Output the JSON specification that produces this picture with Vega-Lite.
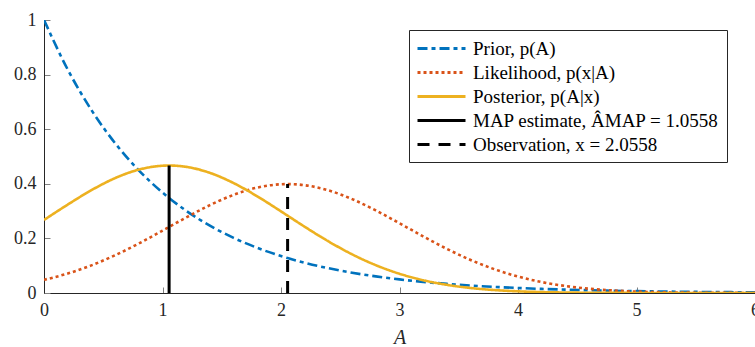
{
  "$schema": "https://vega.github.io/schema/vega-lite/v6.json",
  "autosize": "none",
  "width": 711,
  "height": 273,
  "padding": {"left": 44, "top": 20, "right": 0, "bottom": 54},
  "background": "white",
  "config": {
    "view": {"stroke": null},
    "font": "Liberation Serif",
    "axis": {
      "grid": false,
      "domainColor": "#262626",
      "domainWidth": 1,
      "tickColor": "#808080",
      "tickSize": -6,
      "labelColor": "#262626",
      "labelFont": "Liberation Serif",
      "labelFontSize": 18,
      "labelFlush": false,
      "titleFont": "Liberation Serif",
      "titleColor": "#262626"
    }
  },
  "datasets": {
    "curves": [
      {"A": 0.0, "prior": 1.0, "lik": 0.04822, "post": 0.26742},
      {"A": 0.2, "prior": 0.81873, "lik": 0.07129, "post": 0.32376},
      {"A": 0.4, "prior": 0.67032, "lik": 0.10128, "post": 0.37659},
      {"A": 0.6, "prior": 0.54881, "lik": 0.13826, "post": 0.42085},
      {"A": 0.8, "prior": 0.44933, "lik": 0.18133, "post": 0.4519},
      {"A": 1.0, "prior": 0.36788, "lik": 0.22848, "post": 0.4662},
      {"A": 1.0558, "prior": 0.34792, "lik": 0.24197, "post": 0.46693},
      {"A": 1.2, "prior": 0.30119, "lik": 0.27661, "post": 0.4621},
      {"A": 1.4, "prior": 0.2466, "lik": 0.32175, "post": 0.44007},
      {"A": 1.6, "prior": 0.2019, "lik": 0.35957, "post": 0.40266},
      {"A": 1.8, "prior": 0.1653, "lik": 0.3861, "post": 0.35399},
      {"A": 2.0, "prior": 0.13534, "lik": 0.39832, "post": 0.299},
      {"A": 2.0558, "prior": 0.12799, "lik": 0.39894, "post": 0.28321},
      {"A": 2.2, "prior": 0.1108, "lik": 0.39481, "post": 0.24265},
      {"A": 2.4, "prior": 0.09072, "lik": 0.37599, "post": 0.1892},
      {"A": 2.6, "prior": 0.07427, "lik": 0.34403, "post": 0.14173},
      {"A": 2.8, "prior": 0.06081, "lik": 0.30245, "post": 0.10201},
      {"A": 3.0, "prior": 0.04979, "lik": 0.25546, "post": 0.07054},
      {"A": 3.2, "prior": 0.04076, "lik": 0.20731, "post": 0.04687},
      {"A": 3.4, "prior": 0.03337, "lik": 0.16165, "post": 0.02992},
      {"A": 3.6, "prior": 0.02732, "lik": 0.12109, "post": 0.01835},
      {"A": 3.8, "prior": 0.02237, "lik": 0.08716, "post": 0.01081},
      {"A": 4.0, "prior": 0.01832, "lik": 0.06027, "post": 0.00612},
      {"A": 4.2, "prior": 0.015, "lik": 0.04005, "post": 0.00333},
      {"A": 4.4, "prior": 0.01228, "lik": 0.02556, "post": 0.00174},
      {"A": 4.6, "prior": 0.01005, "lik": 0.01568, "post": 0.00087},
      {"A": 4.8, "prior": 0.00823, "lik": 0.00924, "post": 0.00042},
      {"A": 5.0, "prior": 0.00674, "lik": 0.00523, "post": 0.0002},
      {"A": 5.2, "prior": 0.00552, "lik": 0.00285, "post": 0.00009},
      {"A": 5.4, "prior": 0.00452, "lik": 0.00149, "post": 0.00004},
      {"A": 5.6, "prior": 0.0037, "lik": 0.00075, "post": 0.00002},
      {"A": 5.8, "prior": 0.00303, "lik": 0.00036, "post": 0.00001},
      {"A": 6.0, "prior": 0.00248, "lik": 0.00017, "post": 0.0}
    ],
    "markers": [
      {"series": "map", "A": 1.0558, "p0": 0, "p1": 0.46693},
      {"series": "obs", "A": 2.0558, "p0": 0, "p1": 0.39894}
    ]
  },
  "layer": [
    {
      "data": {"name": "curves"},
      "transform": [{"fold": ["prior", "lik", "post"], "as": ["series", "p"]}],
      "mark": {"type": "line", "interpolate": "monotone", "strokeWidth": 2.6, "strokeCap": "butt", "clip": true},
      "encoding": {
        "x": {"field": "A", "type": "quantitative", "scale": {"domain": [0, 6], "nice": false},
          "axis": {"values": [0, 1, 2, 3, 4, 5, 6], "format": "~g", "title": "A", "titleFontStyle": "italic", "titleFontSize": 20, "titleFontWeight": "normal", "labelPadding": 14, "titlePadding": 8}},
        "y": {"field": "p", "type": "quantitative", "scale": {"domain": [0, 1], "nice": false},
          "axis": {"values": [0, 0.2, 0.4, 0.6, 0.8, 1], "format": "~g", "title": null, "labelPadding": 14}},
        "color": {"field": "series", "type": "nominal",
          "scale": {"domain": ["prior", "lik", "post", "map", "obs"], "range": ["#0072BD", "#D95319", "#EDB120", "#000000", "#000000"]},
          "legend": {
            "orient": "none", "legendX": 365, "legendY": 10, "title": null,
            "symbolType": "M-2.4,0L2.4,0", "symbolSize": 400, "symbolStrokeWidth": 3, "symbolOffset": 14,
            "labelFont": "Liberation Serif", "labelFontSize": 19, "labelColor": "#000000", "labelOffset": 20, "labelLimit": 400,
            "rowPadding": 2, "padding": 7, "strokeColor": "#262626", "fillColor": "white",
            "labelExpr": "datum.value == 'prior' ? 'Prior, p(A)' : datum.value == 'lik' ? 'Likelihood, p(x|A)' : datum.value == 'post' ? 'Posterior, p(A|x)' : datum.value == 'map' ? 'MAP estimate, ÂMAP = 1.0558' : 'Observation, x = 2.0558'"
          }},
        "strokeDash": {"field": "series", "type": "nominal",
          "scale": {"domain": ["prior", "lik", "post", "map", "obs"], "range": [[10, 4, 4, 4], [3, 3], [1, 0], [1, 0], [12, 9]]},
          "legend": null}
      }
    },
    {
      "data": {"name": "markers"},
      "mark": {"type": "rule", "strokeWidth": 3, "strokeCap": "butt"},
      "encoding": {
        "x": {"field": "A", "type": "quantitative"},
        "y": {"field": "p0", "type": "quantitative"},
        "y2": {"field": "p1"},
        "color": {"field": "series", "type": "nominal"},
        "strokeDash": {"field": "series", "type": "nominal"}
      }
    }
  ]
}
